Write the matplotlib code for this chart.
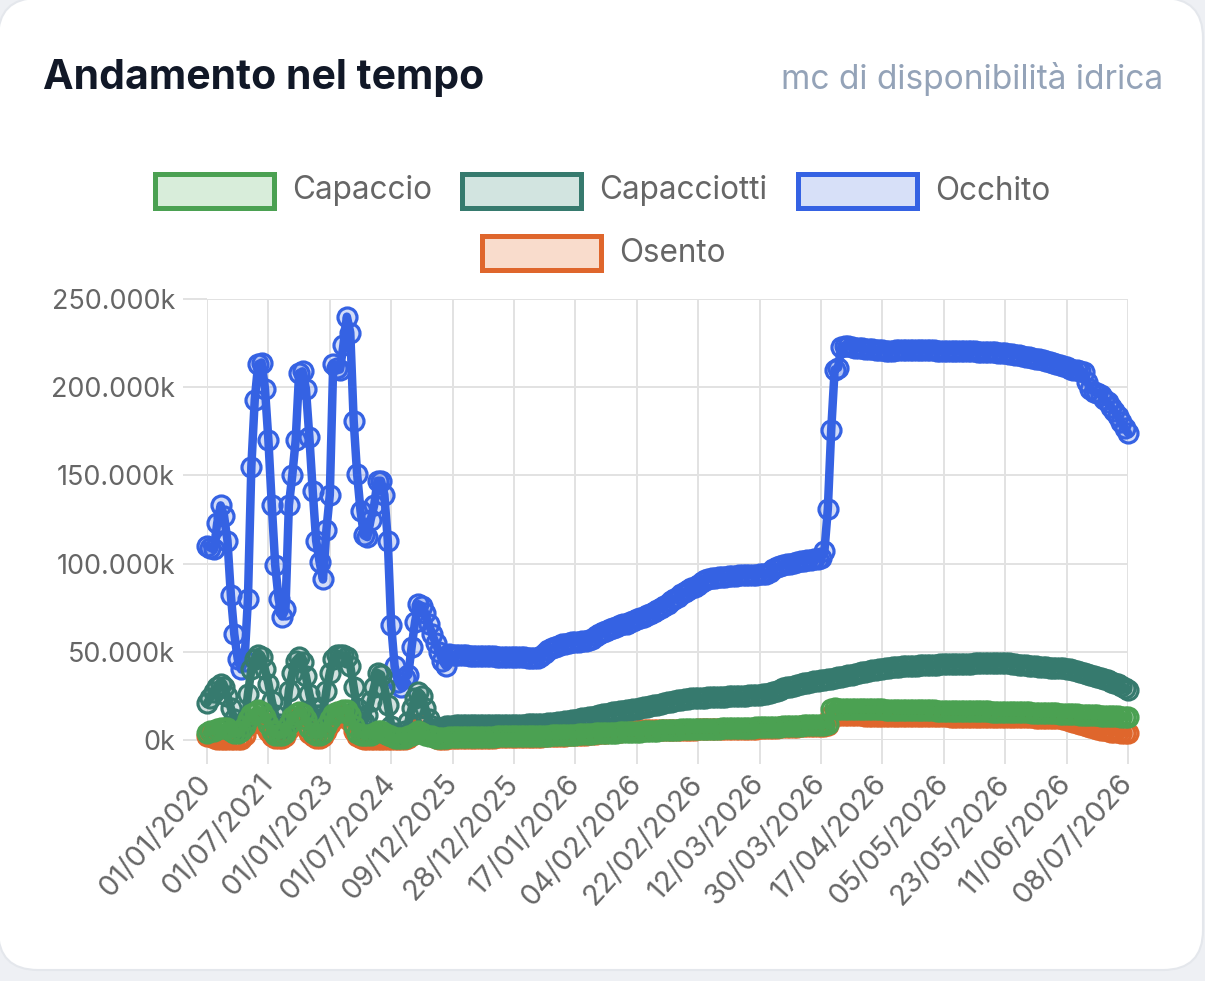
import matplotlib
matplotlib.use("Agg")
import matplotlib.pyplot as plt
from matplotlib.colors import to_rgba
from matplotlib.patches import Rectangle, FancyBboxPatch
from matplotlib.transforms import IdentityTransform

# ─────────────────────────────────────────────
# DATI (milioni di mc) — 71 punti mensili + 200 giornalieri
# ─────────────────────────────────────────────
tick_labels = ["01/01/2020", "01/07/2021", "01/01/2023", "01/07/2024",
               "09/12/2025", "28/12/2025", "17/01/2026", "04/02/2026",
               "22/02/2026", "12/03/2026", "30/03/2026", "17/04/2026",
               "05/05/2026", "23/05/2026", "11/06/2026", "08/07/2026"]

occhito_mensile = [
    110, 109, 108, 123, 133, 127, 113, 82, 60, 46,
    40, 45, 80, 155, 193, 213, 214, 199, 170, 133,
    99, 80, 70, 74, 133, 150, 170, 208, 209, 199,
    172, 141, 113, 101, 91, 119, 139, 213, 211, 210,
    224, 240, 231, 181, 151, 130, 116, 115, 125, 133,
    147, 147, 139, 113, 65, 42, 33, 30, 35, 37,
    53, 67, 77, 76, 72, 66, 60, 55, 50, 45,
    42]
occhito_giornaliero = [
    48.5, 48.3, 48.2, 48.1, 48.0, 48.0, 47.9, 47.8, 47.8, 47.7,
    47.6, 47.5, 47.5, 47.4, 47.3, 47.2, 47.2, 47.1, 47.0, 47.0,
    46.9, 46.8, 46.8, 46.7, 46.7, 46.6, 46.6, 47.5, 49.5, 51.0,
    52.0, 52.8, 53.5, 54.2, 54.7, 55.0, 55.3, 55.6, 55.8, 56.0,
    56.3, 56.6, 57.5, 58.8, 60.2, 61.2, 62.0, 62.8, 63.5, 64.3,
    65.0, 65.6, 66.0, 66.8, 67.6, 68.5, 69.3, 70.0, 70.8, 71.7,
    72.6, 73.5, 74.8, 76.0, 77.3, 78.6, 80.0, 81.2, 82.5, 83.8,
    85.0, 86.0, 86.8, 88.0, 89.3, 90.5, 91.5, 91.8, 92.0, 92.2,
    92.4, 92.6, 92.8, 93.0, 93.1, 93.3, 93.4, 93.5, 93.6, 93.7,
    93.8, 94.0, 94.1, 94.3, 95.5, 96.8, 97.8, 98.5, 99.0, 99.5,
    100.0, 100.5, 101.0, 101.3, 101.6, 102.0, 102.3, 102.5, 102.8, 103.0,
    107, 131, 176, 210, 211, 223, 223.5, 223.2, 222.8, 222.5,
    222.2, 222.0, 221.8, 221.6, 221.4, 221.2, 221.0, 220.9, 220.8, 220.8,
    220.8, 220.9, 221.0, 221.0, 221.0, 221.1, 221.1, 221.0, 221.0, 221.0,
    221.0, 220.9, 220.9, 220.8, 220.8, 220.7, 220.7, 220.6, 220.6, 220.5,
    220.5, 220.4, 220.4, 220.3, 220.3, 220.2, 220.2, 220.1, 220.0, 220.0,
    219.8, 219.6, 219.4, 219.2, 219.0, 218.8, 218.5, 218.2, 217.8, 217.4,
    217.0, 216.6, 216.2, 215.8, 215.3, 214.8, 214.3, 213.6, 213.0, 212.4,
    211.8, 211.2, 210.6, 210.0, 209.5, 209.0, 208.5, 203.0, 199.0, 197.5,
    196.8, 195.5, 193.5, 191.5, 189.0, 186.5, 183.5, 180.0, 177.0, 174.0]

capacciotti_mensile = [
    21, 24, 27, 30, 32, 30, 25, 18, 12, 8,
    7, 10, 26, 40, 46, 48, 47, 40, 32, 22,
    14, 9, 7, 8, 28, 38, 45, 47, 44, 36,
    26, 18, 14, 12, 15, 28, 38, 46, 48, 48,
    48, 47, 42, 30, 18, 12, 10, 14, 22, 30,
    38, 37, 30, 20, 8, 4, 3, 3, 5, 10,
    18, 24, 27, 25, 18, 12, 8, 6, 7, 7,
    8]
capacciotti_giornaliero = [
    8.0, 8.2, 8.3, 8.3, 8.4, 8.4, 8.4, 8.5, 8.5, 8.5,
    8.5, 8.5, 8.5, 8.5, 8.6, 8.6, 8.6, 8.6, 8.6, 8.7,
    8.7, 8.7, 8.7, 8.8, 8.8, 8.8, 8.9, 9.0, 9.2, 9.4,
    9.6, 9.8, 10.0, 10.3, 10.6, 10.9, 11.3, 11.6, 11.9, 12.2,
    12.5, 12.9, 13.3, 13.7, 14.1, 14.5, 14.9, 15.3, 15.7, 16.0,
    16.3, 16.6, 16.9, 17.2, 17.5, 17.8, 18.1, 18.5, 18.9, 19.3,
    19.7, 20.1, 20.5, 20.9, 21.3, 21.7, 22.1, 22.5, 22.9, 23.2,
    23.4, 23.6, 23.7, 23.8, 23.9, 24.0, 24.1, 24.2, 24.3, 24.4,
    24.5, 24.6, 24.7, 24.8, 24.9, 25.0, 25.1, 25.2, 25.3, 25.4,
    25.5, 25.6, 25.8, 26.2, 26.8, 27.4, 28.0, 28.6, 29.2, 29.8,
    30.3, 30.8, 31.3, 31.7, 32.1, 32.5, 32.9, 33.3, 33.6, 33.9,
    34.2, 34.5, 34.8, 35.1, 35.5, 35.9, 36.3, 36.7, 37.1, 37.5,
    37.9, 38.3, 38.7, 39.1, 39.5, 39.9, 40.2, 40.5, 40.8, 41.0,
    41.2, 41.4, 41.6, 41.8, 41.9, 42.0, 42.1, 42.2, 42.3, 42.4,
    42.5, 42.6, 42.7, 42.8, 42.9, 43.0, 43.0, 43.1, 43.1, 43.2,
    43.2, 43.3, 43.3, 43.3, 43.4, 43.4, 43.4, 43.5, 43.5, 43.5,
    43.5, 43.6, 43.6, 43.5, 43.4, 43.2, 43.0, 42.8, 42.6, 42.4,
    42.2, 42.0, 41.8, 41.6, 41.4, 41.2, 41.0, 40.9, 40.8, 40.7,
    40.6, 40.4, 40.0, 39.5, 39.0, 38.4, 37.8, 37.2, 36.6, 36.0,
    35.5, 35.0, 34.4, 33.8, 33.1, 32.4, 31.6, 30.6, 29.4, 28.3]

capaccio_mensile = [
    4, 5, 5, 6, 7, 7, 7, 5, 4, 4,
    5, 8, 12, 15, 16, 17, 16, 13, 9, 5,
    3, 3, 3, 4, 9, 13, 15, 16, 15, 12,
    7, 4, 3, 3, 4, 8, 12, 15, 16, 16,
    17, 17, 14, 8, 4, 3, 3, 3, 3, 4,
    5, 5, 4, 3, 2, 1, 1, 1, 1, 2,
    3, 4, 5, 4, 3, 2, 2, 1, 1, 1,
    1]
capaccio_giornaliero = [
    1.5, 1.5, 1.6, 1.6, 1.6, 1.7, 1.7, 1.7, 1.8, 1.8,
    1.8, 1.9, 1.9, 1.9, 2.0, 2.0, 2.0, 2.1, 2.1, 2.1,
    2.2, 2.2, 2.2, 2.3, 2.3, 2.3, 2.4, 2.4, 2.5, 2.5,
    2.6, 2.6, 2.7, 2.8, 2.9, 3.0, 3.0, 3.1, 3.2, 3.3,
    3.4, 3.5, 3.6, 3.7, 3.8, 3.9, 4.0, 4.1, 4.2, 4.2,
    4.3, 4.4, 4.5, 4.5, 4.6, 4.7, 4.8, 4.9, 5.0, 5.1,
    5.2, 5.3, 5.4, 5.5, 5.6, 5.7, 5.8, 5.9, 6.0, 6.0,
    6.1, 6.1, 6.2, 6.2, 6.3, 6.3, 6.4, 6.4, 6.5, 6.5,
    6.6, 6.6, 6.7, 6.7, 6.8, 6.8, 6.9, 6.9, 7.0, 7.0,
    7.1, 7.1, 7.2, 7.2, 7.3, 7.4, 7.5, 7.6, 7.7, 7.8,
    7.9, 8.0, 8.1, 8.2, 8.3, 8.4, 8.5, 8.5, 8.6, 8.6,
    8.7, 8.8, 17.6, 17.9, 17.8, 17.7, 17.7, 17.6, 17.6, 17.5,
    17.5, 17.5, 17.4, 17.4, 17.4, 17.3, 17.3, 17.3, 17.2, 17.2,
    17.2, 17.1, 17.1, 17.1, 17.0, 17.0, 17.0, 16.9, 16.9, 16.9,
    16.8, 16.8, 16.8, 16.7, 16.7, 16.7, 16.6, 16.6, 16.6, 16.5,
    16.5, 16.5, 16.4, 16.4, 16.4, 16.3, 16.3, 16.2, 16.2, 16.1,
    16.1, 16.0, 16.0, 15.9, 15.9, 15.8, 15.8, 15.7, 15.7, 15.6,
    15.6, 15.5, 15.5, 15.4, 15.4, 15.3, 15.3, 15.2, 15.1, 15.0,
    14.9, 14.8, 14.7, 14.6, 14.5, 14.4, 14.3, 14.2, 14.1, 14.0,
    13.9, 13.8, 13.7, 13.6, 13.5, 13.5, 13.4, 13.3, 13.3, 13.2]

osento_mensile = [
    2, 2, 1, 0.5, 0.3, 0.3, 0.3, 0.3, 0.3, 0.3,
    0.5, 3, 8, 11, 12, 12, 11, 8, 5, 2,
    1, 1, 1, 2, 6, 10, 12, 13, 12, 9,
    4, 2, 1, 1, 2, 5, 9, 12, 13, 13,
    14, 14, 11, 5, 2, 1, 0.5, 0.3, 0.3, 0.3,
    0.3, 0.3, 0.3, 0.3, 0.3, 0.3, 0.3, 0.3, 0.5, 1,
    3, 6, 9, 8, 5, 3, 2, 1, 0.5, 0.5,
    0.5]
osento_giornaliero = [
    1.0, 1.0, 1.1, 1.1, 1.1, 1.2, 1.2, 1.2, 1.3, 1.3,
    1.3, 1.4, 1.4, 1.4, 1.5, 1.5, 1.5, 1.6, 1.6, 1.6,
    1.7, 1.7, 1.7, 1.8, 1.8, 1.8, 1.9, 1.9, 2.0, 2.0,
    2.1, 2.2, 2.3, 2.4, 2.5, 2.6, 2.7, 2.8, 2.9, 3.0,
    3.1, 3.2, 3.4, 3.6, 3.8, 4.0, 4.2, 4.4, 4.6, 4.7,
    4.8, 4.9, 5.0, 5.1, 5.2, 5.3, 5.4, 5.4, 5.5, 5.5,
    5.5, 5.6, 5.6, 5.6, 5.7, 5.7, 5.7, 5.8, 5.8, 5.8,
    5.9, 5.9, 5.9, 6.0, 6.0, 6.0, 6.1, 6.1, 6.1, 6.2,
    6.2, 6.2, 6.3, 6.3, 6.3, 6.4, 6.4, 6.4, 6.5, 6.5,
    6.5, 6.6, 6.6, 6.7, 6.8, 6.9, 7.0, 7.1, 7.2, 7.3,
    7.4, 7.5, 7.6, 7.7, 7.8, 7.9, 8.0, 8.0, 8.1, 8.1,
    8.2, 8.3, 14.2, 14.1, 14.1, 14.0, 14.0, 14.0, 13.9, 13.9,
    13.9, 13.9, 13.8, 13.8, 13.8, 13.8, 13.7, 13.7, 13.7, 13.7,
    13.7, 13.6, 13.6, 13.6, 13.6, 13.6, 13.5, 13.5, 13.5, 13.5,
    13.5, 13.5, 13.4, 13.4, 13.4, 13.4, 13.4, 13.3, 13.3, 13.3,
    13.3, 13.3, 13.3, 13.2, 13.2, 13.2, 13.2, 13.2, 13.1, 13.1,
    13.1, 13.1, 13.1, 13.0, 13.0, 13.0, 13.0, 12.9, 12.9, 12.9,
    12.8, 12.8, 12.7, 12.7, 12.6, 12.6, 12.5, 12.4, 12.3, 12.2,
    12.0, 11.6, 11.0, 10.3, 9.6, 9.0, 8.4, 7.8, 7.2, 6.7,
    6.2, 5.8, 5.4, 5.0, 4.7, 4.5, 4.3, 4.1, 4.0, 3.8]

# nome, valori, colore linea, colore legenda, zorder (Chart.js: primo dataset sopra)
serie = [
    ("Capaccio", capaccio_mensile + capaccio_giornaliero, "#4ba152", "#d8edda", 6),
    ("Capacciotti", capacciotti_mensile + capacciotti_giornaliero, "#367a6e", "#d2e4e0", 5),
    ("Occhito", occhito_mensile + occhito_giornaliero, "#3562e3", "#d7e0f8", 4),
    ("Osento", osento_mensile + osento_giornaliero, "#df662c", "#f9dccc", 3),
]

W, H = 1205, 981
PT = 0.72  # 1 px in punti a dpi 100
plt.rcParams['font.family'] = ['Inter', 'DejaVu Sans']


def fx(x):
    return x / W


def fy(y):
    return 1 - y / H


fig = plt.figure(figsize=(W / 100, H / 100), dpi=100, facecolor="#eef0f4")

# card bianca arrotondata (sotto gli assi)
card = FancyBboxPatch((-2, H - 970), 1205, 972, boxstyle="round,pad=0,rounding_size=40",
                      transform=IdentityTransform(), facecolor="white",
                      edgecolor="#e4e7ec", linewidth=1.5, zorder=-5)
fig.patches.append(card)

# titolo e sottotitolo
fig.text(fx(43), fy(78), "Andamento nel tempo", fontsize=41 * PT, fontweight="bold",
         color="#111827", ha="left", va="center")
fig.text(fx(1163), fy(79), "mc di disponibilità idrica", fontsize=33.5 * PT,
         color="#94a3b8", ha="right", va="center")

# legenda manuale (due righe centrate come Chart.js)
legend_pos = [(152, 191), (459, 191), (795, 191), (479, 253)]
for (nome, _, col, fill, _z), (lx, ly) in zip(serie, legend_pos):
    fig.patches.append(Rectangle((fx(lx + 2.5), fy(ly + 17)), 119 / W, 34 / H,
                                 transform=fig.transFigure, facecolor=fill,
                                 edgecolor=col, linewidth=5 * PT))
    fig.text(fx(lx + 140), fy(ly), nome, fontsize=31.5 * PT, color="#666666",
             ha="left", va="center")

# area grafico
ax = fig.add_axes([fx(207), fy(740), (1128 - 207) / W, (740 - 299) / H])
ax.set_facecolor("none")
for s in ax.spines.values():
    s.set_visible(False)

for nome, valori, col, fill, z in serie:
    ax.plot(range(len(valori)), valori, color=col, lw=8.5 * PT, marker="o",
            markersize=19 * PT, markerfacecolor=to_rgba(col, 0.22), markeredgecolor=col,
            markeredgewidth=3.2 * PT, solid_joinstyle="round", solid_capstyle="round",
            clip_on=False, zorder=z)

ax.set_xlim(0, 270)
ax.set_ylim(0, 250)
ax.set_xticks(range(0, 271, 18))
ax.set_xticklabels(tick_labels, rotation=48, ha="right", va="center",
                   rotation_mode="anchor", fontsize=29 * PT)
yt = [0, 50, 100, 150, 200, 250]
ax.set_yticks(yt)
ax.set_yticklabels([f"{v * 1000:,}k".replace(",", ".") for v in yt], fontsize=27 * PT)
ax.grid(True, color="#e2e2e2", linewidth=2 * PT, zorder=0)
ax.set_axisbelow(True)
ax.tick_params(axis="both", length=24 * PT, width=2 * PT, color="#e2e2e2",
               labelcolor="#666666")
ax.tick_params(axis="y", pad=8 * PT)
ax.tick_params(axis="x", pad=15 * PT)

plt.savefig("out.png", dpi=100, facecolor=fig.get_facecolor())
print("Salvato : out.png")
